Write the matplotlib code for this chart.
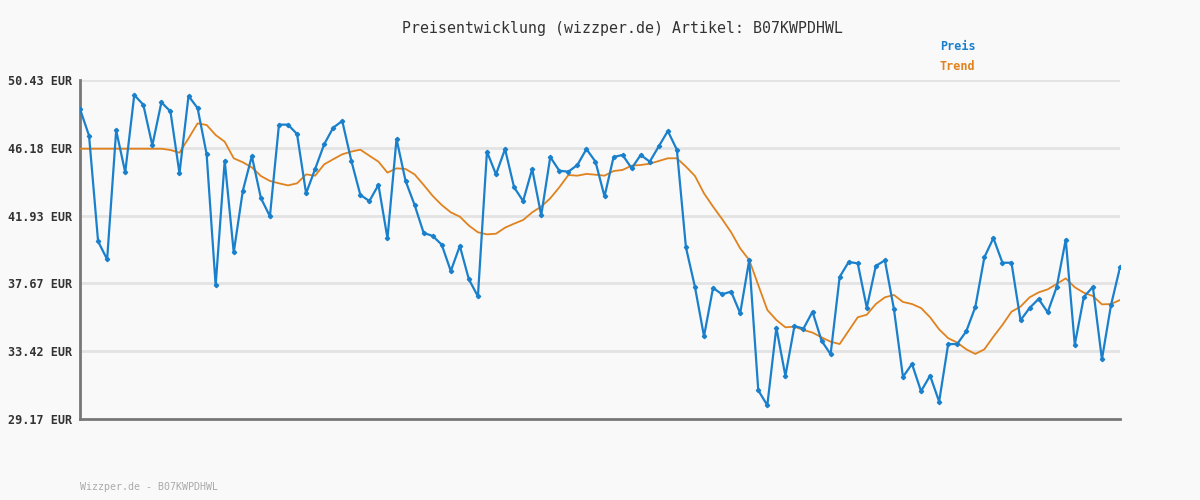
import matplotlib
matplotlib.use("Agg")
import matplotlib.pyplot as plt

# price values (EUR), one per sample
preis = [
    48.61, 46.94, 40.31, 39.18, 47.27, 44.64, 49.49, 48.88, 46.33, 49.03,
    48.46, 44.58, 49.43, 48.67, 45.79, 37.55, 45.37, 39.62, 43.47, 45.66,
    43.03, 41.88, 47.63, 47.63, 47.04, 43.32, 44.85, 46.40, 47.44, 47.86,
    45.37, 43.22, 42.84, 43.85, 40.50, 46.73, 44.10, 42.59, 40.84, 40.65,
    40.10, 38.45, 40.02, 37.93, 36.86, 45.94, 44.51, 46.10, 43.70, 42.84,
    44.85, 41.94, 45.60, 44.74, 44.68, 45.10, 46.10, 45.31, 43.13, 45.60,
    45.73, 44.89, 45.73, 45.31, 46.27, 47.23, 46.06, 39.94, 37.45, 34.36,
    37.39, 36.99, 37.16, 35.80, 39.14, 30.97, 30.03, 34.90, 31.87, 35.00,
    34.84, 35.90, 34.08, 33.23, 38.08, 39.02, 38.93, 36.15, 38.77, 39.12,
    36.07, 31.81, 32.62, 30.91, 31.89, 30.26, 33.87, 33.87, 34.67, 36.19,
    39.31, 40.52, 38.97, 38.97, 35.36, 36.13, 36.70, 35.86, 37.45, 40.42,
    33.83, 36.82, 37.45, 32.91, 36.30, 38.68,
]

# trend line as drawn in the chart
trend = [
    46.12, 46.12, 46.12, 46.12, 46.12, 46.12, 46.12, 46.12, 46.12, 46.12,
    46.04, 45.87, 46.77, 47.71, 47.61, 46.98, 46.56, 45.52, 45.27, 44.95,
    44.41, 44.10, 43.95, 43.82, 43.95, 44.51, 44.43, 45.14, 45.46, 45.77,
    45.94, 46.06, 45.68, 45.31, 44.62, 44.89, 44.85, 44.51, 43.85, 43.16,
    42.59, 42.13, 41.86, 41.30, 40.88, 40.75, 40.79, 41.17, 41.42, 41.65,
    42.13, 42.49, 43.01, 43.70, 44.47, 44.43, 44.54, 44.49, 44.43, 44.72,
    44.79, 45.06, 45.10, 45.18, 45.35, 45.52, 45.52, 45.00, 44.41, 43.32,
    42.49, 41.71, 40.88, 39.87, 39.14, 37.57, 36.01, 35.38, 34.92, 34.96,
    34.75, 34.59, 34.29, 34.02, 33.87, 34.71, 35.55, 35.71, 36.38, 36.80,
    36.95, 36.51, 36.38, 36.13, 35.55, 34.79, 34.24, 33.96, 33.54, 33.25,
    33.54, 34.33, 35.07, 35.90, 36.22, 36.80, 37.11, 37.30, 37.64, 37.99,
    37.43, 37.09, 36.88, 36.36, 36.38, 36.63,
]

y_ticks = [29.17, 33.42, 37.67, 41.93, 46.18, 50.43]
artikel = "B07KWPDHWL"

bg = "#f9f9f9"
blue = "#1a80cc"
orange = "#e0821e"
mono = "DejaVu Sans Mono"

fig = plt.figure(figsize=(12, 5), dpi=100, facecolor=bg)
ax = fig.add_axes([80 / 1200, 1 - 419 / 500, 1040 / 1200, 339 / 500], facecolor=bg)

x = list(range(len(preis)))
ax.plot(x, trend, color=orange, lw=1.3, zorder=3)
ax.plot(x, preis, color=blue, lw=1.6, marker="D", markersize=2.2, zorder=4)

ax.set_xlim(0, len(preis) - 1)
ax.set_ylim(y_ticks[0], y_ticks[-1])
ax.set_xticks([])
ax.set_yticks(y_ticks)
ax.set_yticklabels([f"{t:.2f} EUR" for t in y_ticks], fontfamily=mono,
                   fontsize=8.5, fontweight="bold", color="#333333")
ax.tick_params(axis="y", length=0, pad=5.8)

for t in y_ticks[1:]:
    ax.axhline(t, color="#e3e3e3", lw=2, zorder=1)

for s in ["top", "right"]:
    ax.spines[s].set_visible(False)
for s in ["left", "bottom"]:
    ax.spines[s].set_color("#777777")
    ax.spines[s].set_linewidth(2)

fig.text(623 / 1200, 1 - 28 / 500, f"Preisentwicklung (wizzper.de) Artikel: {artikel}",
         ha="center", va="center", fontfamily=mono, fontsize=10.7, color="#333333")
fig.text(940 / 1200, 1 - 47 / 500, "Preis", ha="left", va="center",
         fontfamily=mono, fontsize=8.5, fontweight="bold", color=blue)
fig.text(940 / 1200, 1 - 67 / 500, "Trend", ha="left", va="center",
         fontfamily=mono, fontsize=8.5, fontweight="bold", color=orange)
fig.text(80 / 1200, 1 - 487 / 500, f"Wizzper.de - {artikel}", ha="left", va="center",
         fontfamily=mono, fontsize=7.2, color="#aaaaaa")

fig.savefig("out.png", dpi=100, facecolor=bg)
